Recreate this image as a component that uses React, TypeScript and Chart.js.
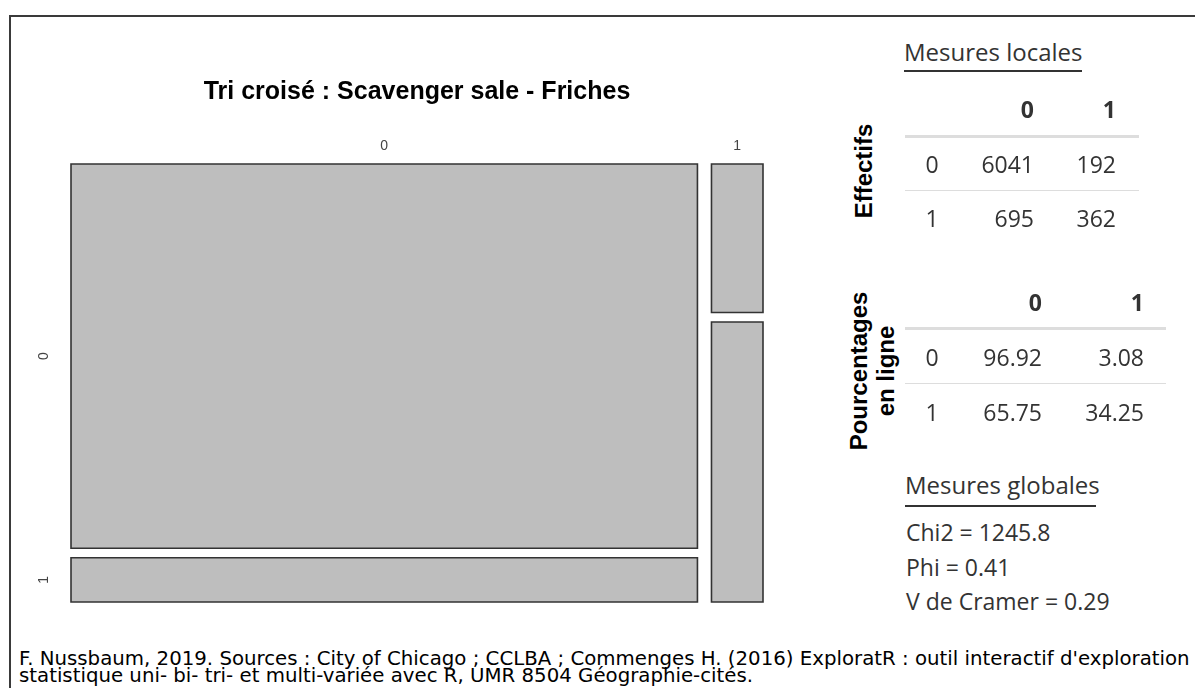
import React, { useEffect, useRef, useMemo } from 'react';
import { Chart, registerables } from 'chart.js';

Chart.register(...registerables);

// ---------------- data ----------------
const frichesCategories = ['0', '1']; // columns (top labels)
const scavengerCategories = ['0', '1']; // rows (left labels)
const effectifsLigne0 = [6041, 192];
const effectifsLigne1 = [695, 362];
const pourcentagesLigne0 = [96.92, 3.08];
const pourcentagesLigne1 = [65.75, 34.25];
const mesuresGlobalesNoms = ['Chi2', 'Phi', 'V de Cramer'];
const mesuresGlobalesValeurs = ['1245.8', '0.41', '0.29'];
const chartTitle = 'Tri croisé : Scavenger sale - Friches';
const sourceLines = [
  "F. Nussbaum, 2019. Sources : City of Chicago ; CCLBA ; Commenges H. (2016) ExploratR : outil interactif d'exploration",
  'statistique uni- bi- tri- et multi-variée avec R, UMR 8504 Géographie-cités.',
];

// ---------------- styling constants ----------------
const GAP_X = 0.0207; // spacing between mosaic columns (data units)
const GAP_Y = 0.0222; // spacing between mosaic rows (data units)
const PANEL_FONT = "'Open Sans', 'Noto Sans', sans-serif";
const BOLD_FONT = "'Liberation Sans', Arial, Helvetica, sans-serif";
const FOOT_FONT = "'DejaVu Sans', Verdana, sans-serif";

function buildMosaic() {
  const rows = [effectifsLigne0, effectifsLigne1];
  const colTotals = frichesCategories.map((_, j) => rows.reduce((s, r) => s + r[j], 0));
  const grand = colTotals.reduce((a, b) => a + b, 0);
  const rects: { x0: number; x1: number; y0: number; y1: number }[] = [];
  const colCenters: number[] = [];
  let rowCenters: number[] = [];
  let x = 0;
  colTotals.forEach((ct, j) => {
    const w = ct / grand;
    let y = 0;
    const centers: number[] = [];
    rows.forEach((r) => {
      const h = r[j] / ct;
      rects.push({ x0: x, x1: x + w, y0: y, y1: y + h });
      centers.push(y + h / 2);
      y += h + GAP_Y;
    });
    if (j === 0) rowCenters = centers;
    colCenters.push(x + w / 2);
    x += w + GAP_X;
  });
  return { rects, colCenters, rowCenters };
}

function Txt({ x, y, align = 'left', size = 23, weight = 400, family = PANEL_FONT, color = '#333', children }: any) {
  const W = 400;
  const left = align === 'left' ? x : align === 'right' ? x - W : x - W / 2;
  return (
    <div
      style={{
        position: 'absolute',
        left,
        top: y - 20,
        width: W,
        height: 40,
        lineHeight: '40px',
        textAlign: align,
        fontFamily: family,
        fontSize: size,
        fontWeight: weight,
        color,
        whiteSpace: 'nowrap',
      }}
    >
      {children}
    </div>
  );
}

function HLine({ x1, x2, y, h = 1, color = '#ddd' }: any) {
  return <div style={{ position: 'absolute', left: x1, top: y, width: x2 - x1, height: h, background: color }} />;
}

function StatTable({ rows, layout }: any) {
  const { headerY, rowYs, colRights, labelX, lineX, headLineY, sepY } = layout;
  return (
    <>
      {frichesCategories.map((c, j) => (
        <Txt key={'h' + j} x={colRights[j]} y={headerY} align="right" weight={700}>
          {c}
        </Txt>
      ))}
      <HLine x1={lineX[0]} x2={lineX[1]} y={headLineY} h={3} color="#dddddd" />
      <HLine x1={lineX[0]} x2={lineX[1]} y={sepY} h={1} color="#dddddd" />
      {rows.map((r: string[], i: number) => (
        <React.Fragment key={'r' + i}>
          <Txt x={labelX} y={rowYs[i]} align="center">
            {scavengerCategories[i]}
          </Txt>
          {r.map((v, j) => (
            <Txt key={'c' + j} x={colRights[j]} y={rowYs[i]} align="right">
              {v}
            </Txt>
          ))}
        </React.Fragment>
      ))}
    </>
  );
}

function Rotated({ cx, cy, lines }: any) {
  return (
    <div
      style={{
        position: 'absolute',
        left: cx,
        top: cy,
        transform: 'translate(-50%, -50%) rotate(-90deg)',
        fontFamily: BOLD_FONT,
        fontWeight: 700,
        fontSize: 24,
        lineHeight: '27px',
        textAlign: 'center',
        whiteSpace: 'nowrap',
        color: '#000',
      }}
    >
      {lines.map((l: string, i: number) => (
        <div key={i}>{l}</div>
      ))}
    </div>
  );
}

export default function App() {
  const canvasRef = useRef<HTMLCanvasElement | null>(null);

  const footerSize = useMemo(() => {
    const ctx = document.createElement('canvas').getContext('2d');
    if (!ctx) return 16;
    ctx.font = `16px ${FOOT_FONT}`;
    const w = ctx.measureText(sourceLines[0]).width;
    return w > 0 ? (16 * 1171) / w : 16;
  }, []);

  useEffect(() => {
    const { rects, colCenters, rowCenters } = buildMosaic();
    const tickFont = { family: BOLD_FONT, size: 14 };
    const chart = new Chart(canvasRef.current as HTMLCanvasElement, {
      type: 'scatter',
      data: {
        datasets: rects.map((r) => ({
          data: [
            { x: r.x0, y: r.y0 },
            { x: r.x1, y: r.y0 },
            { x: r.x1, y: r.y1 },
            { x: r.x0, y: r.y1 },
            { x: r.x0, y: r.y0 },
          ],
          showLine: true,
          fill: 'shape',
          backgroundColor: '#bebebe',
          borderColor: '#333333',
          borderWidth: 1.6,
          pointRadius: 0,
          pointHoverRadius: 0,
          tension: 0,
          borderJoinStyle: 'miter',
          borderCapStyle: 'square',
          clip: false,
        })) as any,
      },
      options: {
        animation: false,
        responsive: false,
        events: [],
        layout: { padding: { left: 0, right: 48, top: 0, bottom: 25 } },
        plugins: {
          legend: { display: false },
          tooltip: { enabled: false },
          title: {
            display: true,
            text: chartTitle,
            fullSize: false,
            color: '#000',
            font: { family: BOLD_FONT, size: 25, weight: 'bold' },
            padding: { top: 60, bottom: 8 },
          },
        },
        scales: {
          x: {
            type: 'linear',
            position: 'top',
            min: 0,
            max: 1 + GAP_X * (frichesCategories.length - 1),
            grid: { display: false, drawTicks: false },
            border: { display: false },
            afterBuildTicks: (s: any) => {
              s.ticks = colCenters.map((v) => ({ value: v }));
            },
            afterFit: (s: any) => {
              s.height = 49;
              s.paddingLeft = 0;
              s.paddingRight = 0;
            },
            ticks: {
              padding: 9,
              autoSkip: false,
              minRotation: 0,
              maxRotation: 0,
              font: tickFont,
              color: '#444',
              callback: (_v: any, i: number) => frichesCategories[i],
            },
          },
          y: {
            type: 'linear',
            min: 0,
            max: 1 + GAP_Y * (scavengerCategories.length - 1),
            reverse: true,
            grid: { display: false, drawTicks: false },
            border: { display: false },
            afterBuildTicks: (s: any) => {
              s.ticks = rowCenters.map((v) => ({ value: v }));
            },
            afterFit: (s: any) => {
              s.width = 60;
              s.paddingTop = 0;
              s.paddingBottom = 0;
            },
            ticks: {
              padding: 23,
              autoSkip: false,
              crossAlign: 'center',
              minRotation: 90,
              maxRotation: 90,
              font: tickFont,
              color: '#444',
              callback: (_v: any, i: number) => scavengerCategories[i],
            },
          },
        },
      } as any,
    });
    return () => chart.destroy();
  }, []);

  const fmt = (v: number) => v.toFixed(2);
  const table1Rows = [effectifsLigne0.map(String), effectifsLigne1.map(String)];
  const table2Rows = [pourcentagesLigne0.map(fmt), pourcentagesLigne1.map(fmt)];

  return (
    <div
      style={{
        position: 'absolute',
        left: 0,
        top: 0,
        width: 1195,
        height: 688,
        overflow: 'hidden',
        background: '#fff',
      }}
    >
      <div
        style={{
          position: 'absolute',
          left: 9,
          top: 15,
          width: 1200,
          height: 700,
          borderTop: '2px solid #3a3a3a',
          borderLeft: '2px solid #3a3a3a',
        }}
      />
      <canvas
        ref={canvasRef}
        width={800}
        height={610}
        style={{ position: 'absolute', left: 11, top: 17, width: 800, height: 610 }}
      />

      {/* Mesures locales */}
      <Txt x={904} y={52} size={24}>
        Mesures locales
      </Txt>
      <HLine x1={904} x2={1082} y={70} h={2} color="#333" />
      <Rotated cx={863} cy={170.5} lines={['Effectifs']} />
      <StatTable
        rows={table1Rows}
        layout={{
          headerY: 109,
          rowYs: [164, 218],
          colRights: [1034, 1116],
          labelX: 932,
          lineX: [905, 1139],
          headLineY: 135,
          sepY: 190,
        }}
      />
      <Rotated cx={872} cy={371} lines={['Pourcentages', 'en ligne']} />
      <StatTable
        rows={table2Rows}
        layout={{
          headerY: 302,
          rowYs: [357, 412],
          colRights: [1042, 1144],
          labelX: 932,
          lineX: [905, 1166],
          headLineY: 327,
          sepY: 383,
        }}
      />

      {/* Mesures globales */}
      <Txt x={905} y={485} size={24}>
        Mesures globales
      </Txt>
      <HLine x1={905} x2={1096} y={505} h={2} color="#333" />
      {mesuresGlobalesNoms.map((n, i) => (
        <Txt key={n} x={906} y={532 + i * 34.5}>
          {n} = {mesuresGlobalesValeurs[i]}
        </Txt>
      ))}

      {/* Source */}
      <div
        style={{
          position: 'absolute',
          left: 19,
          top: 650,
          fontFamily: FOOT_FONT,
          fontSize: footerSize,
          lineHeight: '17px',
          color: '#000',
          whiteSpace: 'nowrap',
        }}
      >
        {sourceLines.map((l, i) => (
          <div key={i}>{l}</div>
        ))}
      </div>
    </div>
  );
}
